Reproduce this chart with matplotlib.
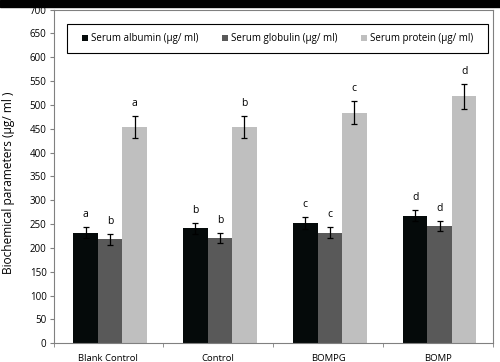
import numpy as np
import matplotlib
matplotlib.use("Agg")
import matplotlib.pyplot as plt
from matplotlib.patches import Rectangle

plt.rcParams['font.family'] = ['Open Sans', 'DejaVu Sans']

groups = ["Blank Control", "Control", "BOMPG", "BOMP"]
albumin = [232, 241, 252, 268]
albumin_err = [12, 12, 13, 12]
globulin = [218, 221, 232, 246]
globulin_err = [11, 11, 12, 11]
protein = [453, 453, 484, 518]
protein_err = [23, 23, 24, 26]
letters_alb = ["a", "b", "c", "d"]
letters_glob = ["b", "b", "c", "d"]
letters_prot = ["a", "b", "c", "d"]

series = [
    ("Serum albumin (\u03bcg/ ml)", albumin, albumin_err, letters_alb, "#050a0a"),
    ("Serum globulin (\u03bcg/ ml)", globulin, globulin_err, letters_glob, "#595959"),
    ("Serum protein (\u03bcg/ ml)", protein, protein_err, letters_prot, "#bfbfbf"),
]

fig = plt.figure(figsize=(5, 3.62), dpi=100)
ax = fig.add_axes([0.107, 0.0517, 0.879, 0.922])

x = np.arange(len(groups))
w = 0.223
for i, (name, vals, errs, lets, col) in enumerate(series):
    pos = x + (i - 1) * w + 0.015
    ax.bar(pos, vals, w, color=col, label=name, zorder=2)
    ax.errorbar(pos, vals, yerr=errs, fmt="none", ecolor="black",
                elinewidth=0.9, capsize=2.5, capthick=0.9, zorder=3)
    for p, v, e, l in zip(pos, vals, errs, lets):
        ax.annotate(l, (p, v + e), xytext=(0, 5), textcoords="offset points",
                    ha="center", va="bottom", fontsize=7.5)

ax.set_xlim(-0.5, len(groups) - 0.5)
ax.set_ylim(0, 700)
ax.set_yticks(np.arange(0, 701, 50))
ax.set_xticks(x)
ax.set_xticklabels(groups)
ax.set_xticks(np.arange(-0.5, len(groups)), minor=True)
ax.tick_params(axis="x", which="major", length=0, labelsize=6.8, pad=7.5)
ax.tick_params(axis="x", which="minor", length=3, color="#808080")
ax.tick_params(axis="y", length=3, color="#808080", labelsize=7, pad=2)
for s in ax.spines.values():
    s.set_color("#808080")
    s.set_linewidth(0.8)
ax.set_ylabel("Biochemical parameters (\u03bcg/ ml )", fontsize=8.6, labelpad=4)
ax.yaxis.set_label_coords(-0.088, 0.48)

# legend box
ax.add_patch(Rectangle((0.031, 0.870), 0.958, 0.087, transform=ax.transAxes,
                       facecolor="white", edgecolor="black", linewidth=0.8,
                       zorder=4))
ax.legend(loc="center", bbox_to_anchor=(0.51, 0.913), ncol=3, fontsize=7,
          frameon=False, handlelength=0.6, handleheight=0.6,
          handletextpad=0.35, columnspacing=2.4, borderaxespad=0)

fig.add_artist(Rectangle((0, 1 - 6.5 / 362), 1, 6.5 / 362, transform=fig.transFigure,
                         color="black", zorder=10))

fig.savefig("out.png", dpi=100)
